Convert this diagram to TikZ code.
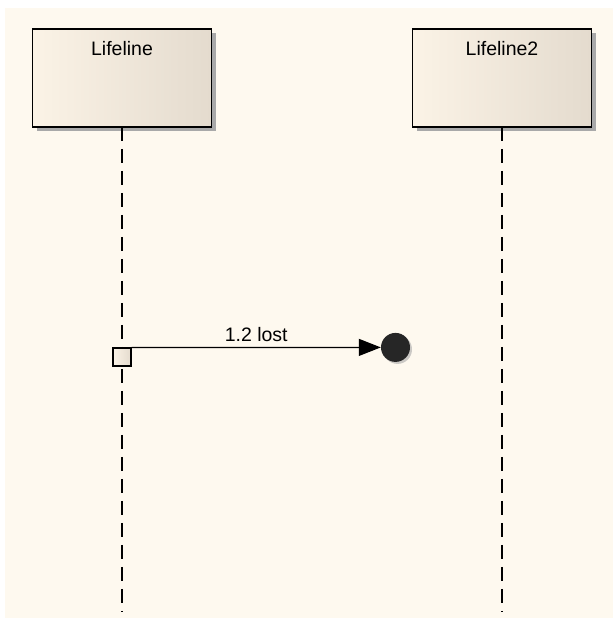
\documentclass[tikz,border=0pt]{standalone}
\usepackage{fontspec}
\setmainfont{Liberation Sans}
\usetikzlibrary{arrows.meta, positioning, shadows}
\definecolor{paper}{HTML}{FEF9EF}
\definecolor{boxlight}{HTML}{FBF3E6}
\definecolor{boxdark}{HTML}{E4DBCE}
\definecolor{shadowgray}{HTML}{A9A9A9}
\begin{document}
\begin{tikzpicture}[x=1pt, y=-1pt, font=\fontsize{19.5}{23}\selectfont,
	lifebox/.style={draw=black, line width=1.8pt, left color=boxlight, right color=boxdark, minimum width=179pt, minimum height=98pt, inner sep=0pt, drop shadow={shadow xshift=4pt, shadow yshift=-4pt, fill=shadowgray, opacity=1}},
	lifeline/.style={line width=1.8pt, dash pattern=on 14.5pt off 7.5pt}]
	\useasboundingbox (0,0) rectangle (613,618);
	\fill[paper] (5,8) rectangle (613,618);
	\node[lifebox] (lifeA) at (122,78) {};
	\node[lifebox] (lifeB) at (502,78) {};
	\node[anchor=base] (nameA) at ([yshift=-27pt]lifeA.north) {Lifeline};
	\node[anchor=base] (nameB) at ([yshift=-27pt]lifeB.north) {Lifeline2};
	\coordinate (endA) at (122,612);
	\coordinate (endB) at (502,612);
	\draw[lifeline] (lifeA.south) ++(0,1pt) -- (endA);
	\draw[lifeline] (lifeB.south) ++(0,1pt) -- (endB);
	\node[draw=black, line width=1.2pt, left color=boxlight, right color=boxdark, minimum size=18pt, inner sep=0pt] (exec) at (122,357) {};
	\node[circle, fill=black!85, minimum size=29pt, inner sep=0pt, drop shadow={shadow xshift=2pt, shadow yshift=-2pt, fill=shadowgray, opacity=0.6}] (lost) at (395.5,347.4) {};
	\draw[line width=1.2pt, -{Triangle[length=22pt, width=17pt]}] (exec.north east) -- (lost.west) node[midway, above=2pt] (msg) {1.2 lost};
\end{tikzpicture}
\end{document}
